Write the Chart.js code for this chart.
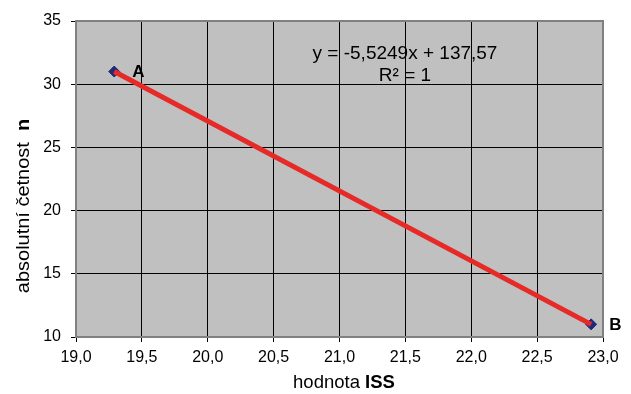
<!DOCTYPE html>
<html lang="cs">
<head>
  <meta charset="UTF-8" />
  <title>hodnota ISS</title>
  <script src="https://cdn.jsdelivr.net/npm/chart.js"></script>
  <style>
    html, body { margin: 0; padding: 0; background: #fff; }
    #wrap { width: 631px; height: 394px; }
  </style>
</head>
<body>
  <div id="wrap"><canvas id="issChart" width="631" height="394"></canvas></div>

  <script>
    // data
    const pointNames = ['A', 'B'];
    const issValues = [19.29, 22.91];
    const countValues = [31, 11];
    const xTicks = [19, 19.5, 20, 20.5, 21, 21.5, 22, 22.5, 23];
    const yTicks = [10, 15, 20, 25, 30, 35];
    const equationText = 'y = -5,5249x + 137,57';
    const r2Text = 'R² = 1';

    const FONT = 'Arial, "Liberation Sans", sans-serif';
    const pts = issValues.map((x, i) => ({ x: x, y: countValues[i] }));

    // draws "normal" + "bold" text centred on 0,0 of the current transform
    function mixedText(ctx, normal, bold, size) {
      ctx.font = size + 'px ' + FONT;
      const w1 = ctx.measureText(normal).width;
      ctx.font = 'bold ' + size + 'px ' + FONT;
      const w2 = ctx.measureText(bold).width;
      const x0 = -(w1 + w2) / 2;
      ctx.textAlign = 'left';
      ctx.font = size + 'px ' + FONT;
      ctx.fillText(normal, x0, 0);
      ctx.font = 'bold ' + size + 'px ' + FONT;
      ctx.fillText(bold, x0 + w1, 0);
    }

    // grey plot area + border, titles, point labels, equation
    const decor = {
      id: 'decor',
      beforeDraw(chart) {
        const { ctx, chartArea: a } = chart;
        ctx.save();
        ctx.fillStyle = '#c0c0c0';
        ctx.fillRect(a.left, a.top, a.right - a.left, a.bottom - a.top);
        ctx.restore();
      },
      afterDraw(chart) {
        const { ctx, chartArea: a } = chart;
        const xs = chart.scales.x, ys = chart.scales.y;
        ctx.save();
        ctx.strokeStyle = '#808080';
        ctx.lineWidth = 2;
        ctx.strokeRect(a.left, a.top, a.right - a.left, a.bottom - a.top);

        ctx.fillStyle = '#000';
        ctx.textBaseline = 'middle';

        // point labels
        ctx.font = 'bold 17px ' + FONT;
        ctx.textAlign = 'left';
        pointNames.forEach((n, i) => {
          ctx.fillText(n, xs.getPixelForValue(issValues[i]) + 18, ys.getPixelForValue(countValues[i]) + 1);
        });

        // trendline equation
        ctx.font = '19px ' + FONT;
        ctx.textAlign = 'center';
        ctx.fillText(equationText, 405, 54);
        ctx.fillText(r2Text, 405, 76);

        // x title
        ctx.save();
        ctx.translate(344, 383);
        mixedText(ctx, 'hodnota ', 'ISS', 18.5);
        ctx.restore();

        // y title
        ctx.translate(24, 206);
        ctx.rotate(-Math.PI / 2);
        ctx.scale(1.08, 1);
        mixedText(ctx, 'absolutní četnost  ', 'n', 18.5);
        ctx.restore();
      }
    };

    new Chart(document.getElementById('issChart'), {
      type: 'scatter',
      data: {
        datasets: [
          {
            label: 'trend',
            data: pts,
            showLine: true,
            borderColor: '#e62a28',
            borderWidth: 5,
            pointRadius: 0,
            order: 0
          },
          {
            label: 'body',
            data: pts,
            pointStyle: 'rectRot',
            pointRadius: 5.5,
            backgroundColor: '#1f2a7a',
            borderColor: '#1f2a7a',
            borderWidth: 1,
            order: 1
          }
        ]
      },
      options: {
        responsive: false,
        animation: false,
        layout: { padding: { left: 0, right: 28, top: 21, bottom: 0 } },
        plugins: { legend: { display: false }, tooltip: { enabled: false } },
        scales: {
          x: {
            type: 'linear',
            min: xTicks[0],
            max: xTicks[xTicks.length - 1],
            afterBuildTicks: s => { s.ticks = xTicks.map(v => ({ value: v })); },
            afterFit: s => { s.height = 57; },
            ticks: {
              color: '#000',
              font: { size: 16, family: FONT },
              padding: 6,
              maxRotation: 0,
              callback: v => v.toFixed(1).replace('.', ',')
            },
            grid: { color: '#000', lineWidth: 1, tickColor: '#000', tickLength: 5 },
            border: { color: '#808080', width: 2 }
          },
          y: {
            min: yTicks[0],
            max: yTicks[yTicks.length - 1],
            afterBuildTicks: s => { s.ticks = yTicks.map(v => ({ value: v })); },
            afterFit: s => { s.width = 76; },
            ticks: {
              color: '#000',
              font: { size: 16, family: FONT },
              padding: 10,
              callback: v => String(v)
            },
            grid: { color: '#000', lineWidth: 1, tickColor: '#000', tickLength: 5 },
            border: { color: '#808080', width: 2 }
          }
        }
      },
      plugins: [decor]
    });
  </script>
</body>
</html>
